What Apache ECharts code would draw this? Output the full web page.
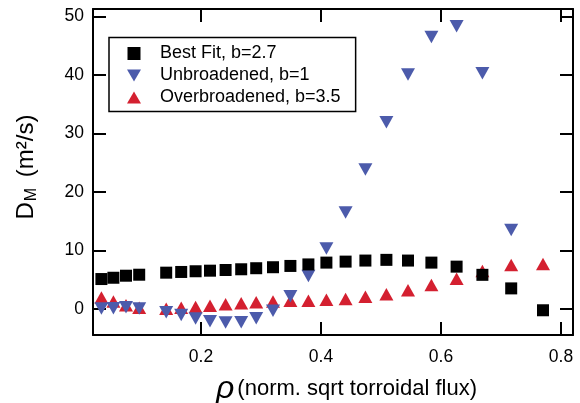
<!DOCTYPE html>
<html>
<head>
<meta charset="utf-8">
<script src="https://cdn.jsdelivr.net/npm/echarts@6/dist/echarts.min.js"></script>
<style>
  html, body { margin: 0; padding: 0; background: #fff; }
  #chart { width: 580px; height: 403px; }
</style>
</head>
<body>
<div id="chart"></div>
<script>
// Normalised radius (sqrt toroidal flux) of each profile point
const rho = [0.034, 0.054, 0.075, 0.097, 0.142, 0.167, 0.191, 0.215, 0.241, 0.267, 0.292, 0.320,
             0.349, 0.379, 0.409, 0.441, 0.474, 0.509, 0.545, 0.584, 0.626, 0.669, 0.717, 0.770];
// Magnetic diffusivity D_M (m^2/s) for each broadening case
const bestFit = [5.12, 5.34, 5.69, 5.86, 6.21, 6.33, 6.45, 6.55, 6.67, 6.79, 6.97, 7.14,
                 7.36, 7.62, 7.93, 8.10, 8.28, 8.40, 8.28, 7.93, 7.24, 5.84, 3.52, -0.22];
const unbroadened = [0.07, 0.12, 0.29, 0.07, -0.57, -1.05, -1.64, -2.09, -2.33, -2.29, -1.60, -0.31,
                     2.16, 5.64, 10.36, 16.51, 23.84, 31.93, 40.10, 46.52, 48.37, 40.33, 13.51];
const overbroadened = [1.98, 1.29, 0.64, 0.21, 0.03, 0.21, 0.34, 0.55, 0.81, 0.98, 1.16, 1.28,
                       1.41, 1.41, 1.59, 1.72, 2.10, 2.53, 3.22, 4.09, 5.19, 6.50, 7.53, 7.71];
const seriesNames = ['Best Fit, b=2.7', 'Unbroadened, b=1', 'Overbroadened, b=3.5'];

const FONT = 'Liberation Sans, Arial, Helvetica, sans-serif';
const pair = (ys) => ys.map((y, i) => [rho[i], y]);

// Legend glyphs: square, down-pointing and up-pointing triangles
const ICON_SQUARE = 'path://M1,1L13,1L13,13L1,13Z';
const ICON_DOWN = 'path://M0,0L14,0L7,12Z';
const ICON_UP = 'path://M7,0L14,12L0,12Z';

const axisCommon = {
  type: 'value',
  axisLine: { show: true, onZero: false, lineStyle: { color: '#000', width: 2 } },
  axisTick: { show: true, inside: true, length: 13, lineStyle: { color: '#000', width: 2 } },
  splitLine: { show: false }
};

const chart = echarts.init(document.getElementById('chart'), null, { renderer: 'canvas' });
chart.setOption({
  animation: false,
  backgroundColor: '#fff',
  grid: { left: 93, right: 7, top: 9, bottom: 68, containLabel: false, outerBoundsMode: 'none' },
  xAxis: [
    Object.assign({}, axisCommon, {
      position: 'bottom', min: 0.02, max: 0.82, splitNumber: 4,
      axisLabel: {
        show: true, margin: 13, fontSize: 17.5, fontFamily: FONT, color: '#000',
        showMinLabel: false, showMaxLabel: false,
        formatter: (v) => (Math.round(v * 10) / 10).toFixed(1)
      },
      name: '{r|ρ}{t|(norm. sqrt torroidal flux)}',
      nameLocation: 'middle',
      nameGap: 38,
      nameTextStyle: {
        padding: [0, 0, 0, 27],
        rich: {
          r: { fontSize: 32, fontStyle: 'italic', fontFamily: FONT, color: '#000', padding: [0, 3, 0, 0] },
          t: { fontSize: 22, fontFamily: FONT, color: '#000' }
        }
      }
    }),
    Object.assign({}, axisCommon, {
      position: 'top', min: 0.02, max: 0.82, splitNumber: 4,
      axisLabel: { show: false }
    })
  ],
  yAxis: [
    Object.assign({}, axisCommon, {
      position: 'left', min: -4.45, max: 51.3, splitNumber: 5,
      axisLabel: {
        show: true, margin: 9, fontSize: 17.5, fontFamily: FONT, color: '#000',
        showMinLabel: false, showMaxLabel: false,
        formatter: (v) => String(Math.round(v))
      },
      name: '{d|D}{s|M}{g| }{d|(m²/s)}',
      nameLocation: 'middle',
      nameRotate: 90,
      nameGap: 53,
      nameTextStyle: {
        padding: [0, 0, 0, 10],
        rich: {
          d: { fontSize: 24, fontFamily: FONT, color: '#000' },
          s: { fontSize: 16, fontFamily: FONT, color: '#000', padding: [11, 0, 0, 1] },
          g: { fontSize: 24, fontFamily: FONT, color: '#000', padding: [0, 4, 0, 0] }
        }
      }
    }),
    Object.assign({}, axisCommon, {
      position: 'right', min: -4.45, max: 51.3, splitNumber: 5,
      axisLabel: { show: false }
    })
  ],
  legend: {
    orient: 'vertical',
    left: 109,
    top: 37.5,
    padding: [7, 15, 5, 18],
    itemWidth: 14,
    itemHeight: 13,
    itemGap: 4,
    symbolKeepAspect: true,
    borderColor: '#000',
    borderWidth: 1.5,
    backgroundColor: '#fff',
    textStyle: { fontSize: 18, fontFamily: FONT, color: '#000', lineHeight: 17, padding: [0, 0, 0, 14] },
    data: [
      { name: seriesNames[0], icon: ICON_SQUARE },
      { name: seriesNames[1], icon: ICON_DOWN },
      { name: seriesNames[2], icon: ICON_UP }
    ]
  },
  series: [
    {
      name: seriesNames[0], type: 'scatter', z: 4,
      symbol: 'rect', symbolSize: 12,
      itemStyle: { color: '#000', opacity: 1 },
      data: pair(bestFit)
    },
    {
      name: seriesNames[1], type: 'scatter', z: 3,
      symbol: 'triangle', symbolRotate: 180, symbolSize: [14, 12.5],
      itemStyle: { color: '#4c5bab', opacity: 1 },
      data: pair(unbroadened)
    },
    {
      name: seriesNames[2], type: 'scatter', z: 2,
      symbol: 'triangle', symbolSize: [14, 12.5],
      itemStyle: { color: '#d42030', opacity: 1 },
      data: pair(overbroadened)
    }
  ]
});
</script>
</body>
</html>
